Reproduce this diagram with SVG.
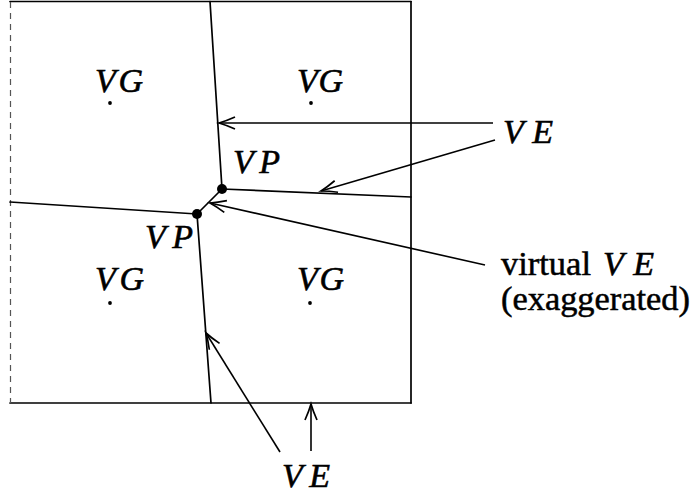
<svg xmlns="http://www.w3.org/2000/svg" width="693" height="495" viewBox="0 0 693 495">
<style>
.edge{stroke:#000;stroke-width:1.7;fill:none;stroke-linecap:round}
.arr{stroke:#000;stroke-width:1.6;fill:none;marker-end:url(#ah)}
.m{font-family:"Liberation Serif",serif;font-style:italic;font-size:34px;fill:#000;stroke:#000;stroke-width:0.6}
.r{font-family:"Liberation Serif",serif;font-size:33px;fill:#000;stroke:#000;stroke-width:0.5}
.dot{fill:#000}
</style>
<defs>
<marker id="ah" markerUnits="userSpaceOnUse" markerWidth="24" markerHeight="20" viewBox="-18 -10 20 20" refX="0" refY="0" orient="auto">
<path d="M-16,-6 Q-7,-2 0,0 Q-7,2 -16,6" stroke="#000" stroke-width="1.7" fill="none"/>
</marker>
</defs>
<rect width="693" height="495" fill="#fff"/>
<g id="frame">
<line class="edge" x1="10" y1="1.5" x2="411" y2="1.5"/>
<line class="edge" x1="411" y1="1.5" x2="411" y2="403"/>
<line class="edge" x1="10" y1="403" x2="411" y2="403"/>
<line x1="10.5" y1="2" x2="10.5" y2="403" stroke="#555" stroke-width="1.2" stroke-dasharray="6,5"/>
</g>
<g id="edges">
<line class="edge" x1="210" y1="1.5" x2="222" y2="189"/>
<line class="edge" x1="222" y1="189" x2="411" y2="197"/>
<line class="edge" x1="10" y1="202" x2="197" y2="214"/>
<line class="edge" x1="197" y1="214" x2="211" y2="403"/>
<line class="edge" x1="222" y1="189" x2="197" y2="214"/>
</g>
<g id="vp-upper">
<circle class="dot" cx="222" cy="189" r="5"/>
<text class="m" x="233" y="173" textLength="47" lengthAdjust="spacing">VP</text>
</g>
<g id="vp-lower">
<circle class="dot" cx="197" cy="214" r="5"/>
<text class="m" x="145" y="248" textLength="48" lengthAdjust="spacing">VP</text>
</g>
<g id="vg-tl">
<text class="m" x="95" y="92" textLength="48" lengthAdjust="spacing">VG</text>
<circle class="dot" cx="110" cy="103" r="1.9"/>
</g>
<g id="vg-tr">
<text class="m" x="297" y="92" textLength="46" lengthAdjust="spacing">VG</text>
<circle class="dot" cx="311" cy="103" r="1.9"/>
</g>
<g id="vg-bl">
<text class="m" x="95" y="290" textLength="49" lengthAdjust="spacing">VG</text>
<circle class="dot" cx="110" cy="303" r="1.9"/>
</g>
<g id="vg-br">
<text class="m" x="297" y="290" textLength="47" lengthAdjust="spacing">VG</text>
<circle class="dot" cx="310" cy="303" r="1.9"/>
</g>
<g id="label-ve-right">
<text class="m" x="503" y="143" textLength="50" lengthAdjust="spacing">VE</text>
</g>
<g id="label-virtual">
<text class="r" x="501" y="275" textLength="90" lengthAdjust="spacingAndGlyphs">virtual</text>
<text class="m" x="603" y="275" textLength="51" lengthAdjust="spacing">VE</text>
<text class="r" x="501" y="310" textLength="189" lengthAdjust="spacingAndGlyphs">(exaggerated)</text>
</g>
<g id="label-ve-bottom">
<text class="m" x="282" y="487" textLength="48" lengthAdjust="spacing">VE</text>
</g>
<g id="connectors">
<line class="arr" x1="493" y1="123" x2="219" y2="123"/>
<line class="arr" x1="495" y1="140" x2="321" y2="191"/>
<line class="arr" x1="485" y1="265" x2="210" y2="203"/>
<line class="arr" x1="280" y1="452" x2="206" y2="333"/>
<line class="arr" x1="311" y1="451" x2="311" y2="404"/>
</g>
</svg>
